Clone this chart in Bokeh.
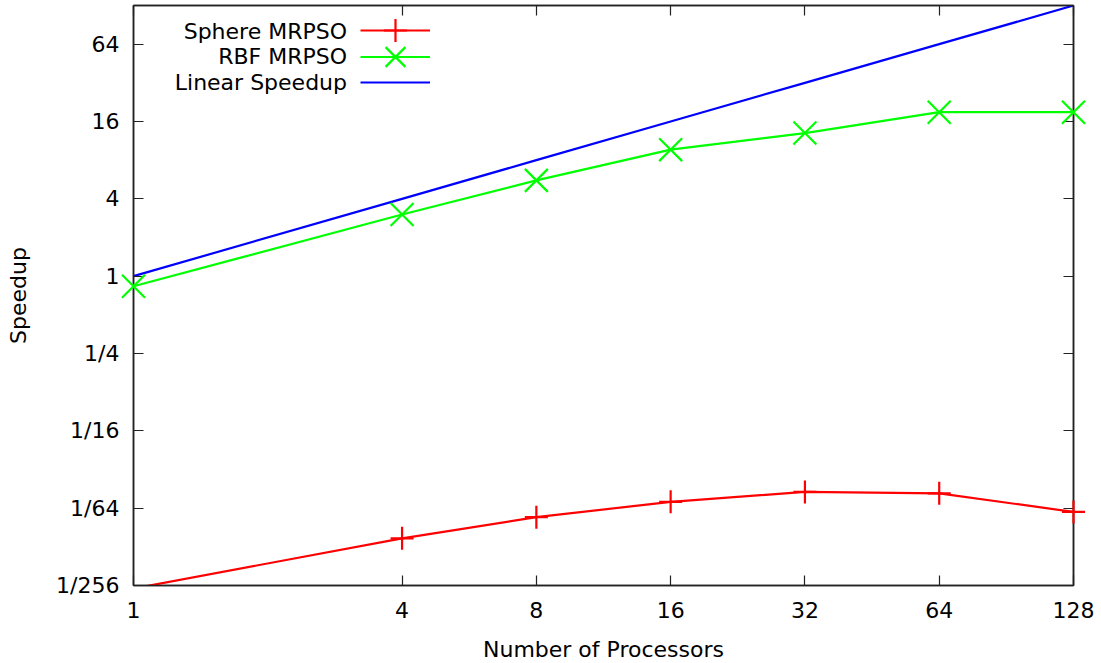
import numpy as np
from bokeh.plotting import figure
from bokeh.models import (FixedTicker, LogAxis, Legend, LegendItem, Label, Range1d,
                          ColumnDataSource, CDSView, BooleanFilter)
from bokeh.embed import file_html
from bokeh.resources import INLINE

# ---------------- data ----------------
processors = [1, 4, 8, 16, 32, 64, 128]
sphere_speedup = [0.0037, 0.0091, 0.0133, 0.0175, 0.0209, 0.0204, 0.0146]
rbf_speedup = [0.835, 3.02, 5.57, 9.66, 13.0, 18.9, 18.9]
linear_speedup = [1, 4, 8, 16, 32, 64, 128]

x_ticks = [1, 4, 8, 16, 32, 64, 128]
x_tick_labels = ["1", "4", "8", "16", "32", "64", "128"]
y_ticks = [1 / 256, 1 / 64, 1 / 16, 1 / 4, 1, 4, 16, 64]
y_tick_labels = ["1/256", "1/64", "1/16", "1/4", "1", "4", "16", "64"]
series_names = ["Sphere MRPSO", "RBF MRPSO", "Linear Speedup"]
x_title = "Number of Processors"
y_title = "Speedup"
x_lim = (1, 128)
y_lim = (1 / 256, 128)

FONT = "DejaVu Sans"
FS = "22px"
RED, GREEN, BLUE = "#ff0000", "#00ff00", "#0000ff"
AXC = "#222222"

FRAME_TOP = 5
FRAME_H = 580
FRAME_BOTTOM = FRAME_TOP + FRAME_H   # page y of the frame's bottom edge

p = figure(x_axis_type="log", y_axis_type="log",
           x_range=Range1d(*x_lim), y_range=Range1d(*y_lim),
           frame_width=940, frame_height=FRAME_H,
           min_border_left=133, min_border_right=26, min_border_top=FRAME_TOP,
           min_border_bottom=40,
           output_backend="svg", toolbar_location=None)
p.grid.visible = False
p.outline_line_color = AXC
p.outline_line_width = 1.5
p.background_fill_color = "white"
p.border_fill_color = "white"

x_over = {t: l for t, l in zip(x_ticks, x_tick_labels)}
y_over = {t: l for t, l in zip(y_ticks, y_tick_labels)}


def style_axis(ax, ticks, over, labels=True):
    ax.ticker = FixedTicker(ticks=ticks, minor_ticks=[])
    ax.major_label_overrides = over
    ax.major_tick_in = 10
    ax.major_tick_out = 0
    ax.minor_tick_in = 0
    ax.minor_tick_out = 0
    ax.axis_line_color = AXC
    ax.axis_line_width = 1.5
    ax.major_tick_line_color = AXC
    ax.major_tick_line_width = 1.2
    ax.major_label_text_font = FONT
    if labels:
        ax.major_label_text_font_size = FS
        ax.major_label_text_color = "black"
    else:
        # mirror axis: ticks only, no labels drawn
        ax.major_label_text_font_size = "1px"
        ax.major_label_text_color = None
        ax.major_label_standoff = 0


xa = p.xaxis[0]
style_axis(xa, x_ticks, x_over)
xa.major_label_standoff = 16
xa.axis_label = x_title
xa.axis_label_text_font = FONT
xa.axis_label_text_font_size = FS
xa.axis_label_text_font_style = "normal"
xa.axis_label_text_color = "black"
xa.axis_label_standoff = 16

ya = p.yaxis[0]
style_axis(ya, y_ticks, y_over)
ya.major_label_standoff = 14
ya.axis_label = y_title
ya.axis_label_text_font = FONT
ya.axis_label_text_font_size = FS
ya.axis_label_text_font_style = "normal"
ya.axis_label_text_color = "black"
ya.axis_label_standoff = 22

top_ax = LogAxis()
style_axis(top_ax, x_ticks, x_over, labels=False)
p.add_layout(top_ax, "above")
right_ax = LogAxis()
style_axis(right_ax, y_ticks, y_over, labels=False)
p.add_layout(right_ax, "right")

src = ColumnDataSource(dict(x=processors, sphere=sphere_speedup,
                            rbf=rbf_speedup, lin=linear_speedup))
sphere_in = CDSView(filter=BooleanFilter([v >= y_lim[0] for v in sphere_speedup]))

LW = 2.2
CROSS_SIZE = 23
X_SIZE = 32.5
r_sl = p.line("x", "sphere", source=src, line_color=RED, line_width=LW)
r_sp = p.scatter("x", "sphere", source=src, view=sphere_in, marker="cross", size=CROSS_SIZE,
                 line_color=RED, line_width=LW, level="overlay")
r_rl = p.line("x", "rbf", source=src, line_color=GREEN, line_width=LW)
r_rp = p.scatter("x", "rbf", source=src, marker="x", size=X_SIZE,
                 line_color=GREEN, line_width=LW, level="overlay")
r_ll = p.line("x", "lin", source=src, line_color=BLUE, line_width=LW)

# gnuplot-style key: right-aligned text, then a sample line with its point
key_rows = [([r_sl, r_sp], CROSS_SIZE / 0.4), ([r_rl, r_rp], X_SIZE / 0.4), ([r_ll], 20)]
key_centers = [30.5, 56, 81.7]          # page y of each key row
KEY_X = 227                             # sample line left edge, from frame left
for (rends, gh), yc in zip(key_rows, key_centers):
    lg = Legend(items=[LegendItem(label=" ", renderers=rends)],
                location=(KEY_X, FRAME_BOTTOM - (yc + gh / 2)),
                glyph_width=70, glyph_height=int(round(gh)),
                label_standoff=0, label_width=0, label_height=0,
                label_text_font_size="1px", label_text_color=None,
                padding=0, margin=0, spacing=0,
                border_line_color=None, background_fill_alpha=0)
    p.add_layout(lg, "center")

for name, yc in zip(series_names, key_centers):
    p.add_layout(Label(x=KEY_X - 13.5, y=FRAME_BOTTOM - yc, x_units="screen", y_units="screen",
                       text=name, text_align="right", text_baseline="middle",
                       text_font=FONT, text_font_size=FS, text_color="black"))

open("out.html", "w").write(file_html(p, INLINE))
